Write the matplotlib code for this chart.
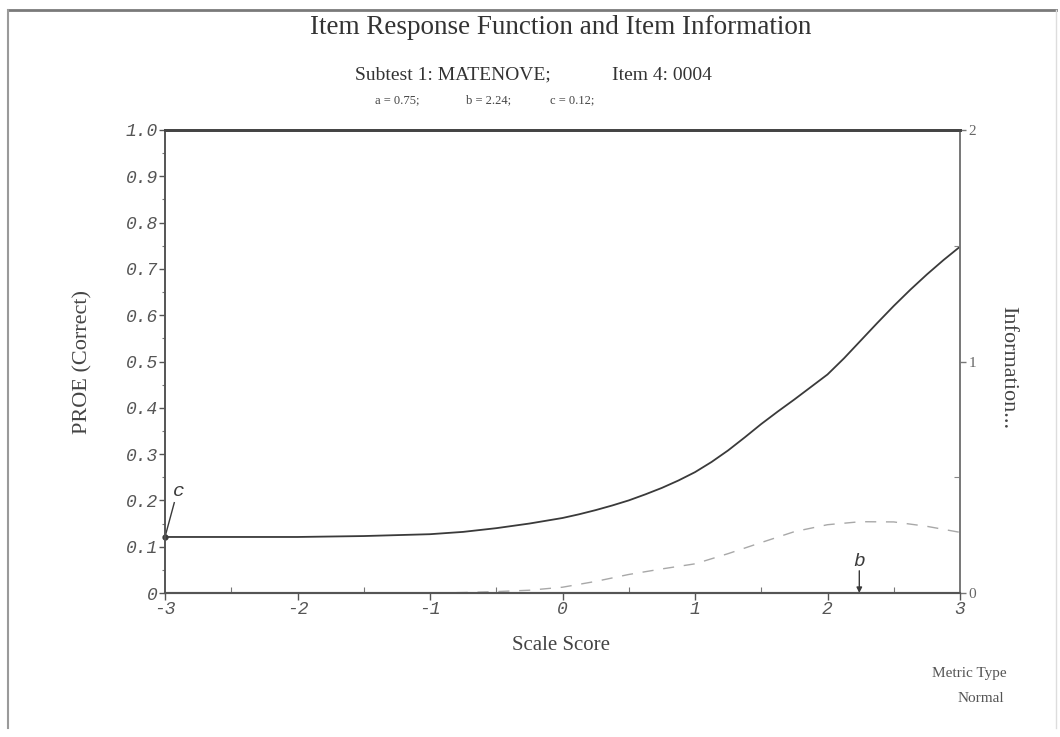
import matplotlib.pyplot as plt
from matplotlib.lines import Line2D
from matplotlib.ticker import MultipleLocator, FixedLocator

# item parameters (3PL)
a_param = 0.75
b_param = 2.24
c_param = 0.12

# scale score grid for the response function
theta = [-3.0, -2.75, -2.5, -2.25, -2.0, -1.75, -1.5, -1.25, -1.0, -0.75, -0.5, -0.25,
         0.0, 0.125, 0.25, 0.375, 0.5, 0.625, 0.75, 0.875, 1.0, 1.125, 1.25, 1.375,
         1.5, 1.625, 1.75, 1.875, 2.0, 2.125, 2.25, 2.375, 2.5, 2.625, 2.75, 2.875, 3.0]

# probability of a correct response
prob_correct = [0.121, 0.121, 0.121, 0.121, 0.121, 0.122, 0.123, 0.125, 0.127, 0.132, 0.140, 0.150,
                0.162, 0.170, 0.179, 0.189, 0.200, 0.213, 0.227, 0.243, 0.261, 0.283, 0.308, 0.336,
                0.365, 0.392, 0.418, 0.445, 0.472, 0.507, 0.545, 0.583, 0.620, 0.655, 0.688, 0.719, 0.748]

# scale score grid and item information
theta_info = [-3.0, -2.5, -2.0, -1.5, -1.0, -0.75, -0.5, -0.25, 0.0, 0.25, 0.5, 0.75,
              1.0, 1.25, 1.5, 1.75, 2.0, 2.25, 2.5, 2.75, 3.0]
information = [0.0, 0.0, 0.0, 0.0, 0.0, 0.002, 0.006, 0.012, 0.025, 0.050, 0.080, 0.104,
               0.126, 0.170, 0.218, 0.265, 0.295, 0.308, 0.307, 0.288, 0.262]

left_ticks = [0.0, 0.1, 0.2, 0.3, 0.4, 0.5, 0.6, 0.7, 0.8, 0.9, 1.0]
left_labels = ["0", "0.1", "0.2", "0.3", "0.4", "0.5", "0.6", "0.7", "0.8", "0.9", "1.0"]
x_ticks = [-3, -2, -1, 0, 1, 2, 3]
right_ticks = [0, 1, 2]

serif = "Liberation Serif"
mono = "Liberation Mono"
ink = "#3a3a3a"

fig = plt.figure(figsize=(10.6, 7.37), dpi=100)
fig.patch.set_facecolor("white")

# page frame
W, H = 1060, 737
frame = [((8, 1056), (10, 10), "#7a7a7a", 2.0),
         ((8, 8), (10, 728), "#9a9a9a", 1.5),
         ((1056, 1056), (10, 728), "#dddddd", 1.0)]
for xs, ys, col, lw in frame:
    fig.add_artist(Line2D([x / W for x in xs], [1 - y / H for y in ys],
                          transform=fig.transFigure, color=col, linewidth=lw))

ax = fig.add_axes([165 / W, 1 - 593 / H, 795 / W, 463 / H])
ax2 = ax.twinx()

ax.plot(theta, prob_correct, color=ink, linewidth=1.3, zorder=3)
ax2.plot(theta_info, information, color="#a8a8a8", linewidth=1.0,
         linestyle=(0, (8, 7)), zorder=2)

ax.set_xlim(-3, 3)
ax.set_ylim(0, 1)
ax2.set_ylim(0, 2)

# left axis
ax.yaxis.set_major_locator(FixedLocator(left_ticks))
ax.set_yticklabels(left_labels, fontfamily=mono, fontstyle="italic",
                   fontsize=13, color="#555555")
ax.yaxis.set_minor_locator(MultipleLocator(0.05))
ax.tick_params(axis="y", which="major", direction="out", length=4, width=1, color="#555555", pad=1)
ax.tick_params(axis="y", which="minor", direction="out", length=2, width=0.8, color="#777777")

# bottom axis
ax.xaxis.set_major_locator(FixedLocator(x_ticks))
ax.set_xticklabels([str(t) for t in x_ticks], fontfamily=mono, fontstyle="italic",
                   fontsize=13, color="#555555")
ax.xaxis.set_minor_locator(MultipleLocator(0.5))
ax.tick_params(axis="x", which="major", direction="out", length=5, width=1, color="#555555", pad=1)
ax.tick_params(axis="x", which="minor", direction="in", length=4, width=0.8, color="#777777")

# right axis
ax2.yaxis.set_major_locator(FixedLocator(right_ticks))
ax2.set_yticklabels([str(t) for t in right_ticks], fontfamily=serif,
                    fontsize=11, color="#666666")
ax2.yaxis.set_minor_locator(MultipleLocator(0.5))
ax2.tick_params(axis="y", which="major", direction="out", length=4, width=1, color="#777777", pad=2)
ax2.tick_params(axis="y", which="minor", direction="in", length=4, width=0.8, color="#888888")

for a in (ax, ax2):
    a.spines["left"].set_color("#555555")
    a.spines["bottom"].set_color("#555555")
    a.spines["right"].set_color("#777777")
    a.spines["top"].set_color("#444444")
    a.spines["top"].set_linewidth(2.0)
    a.spines["left"].set_linewidth(1.2)
    a.spines["bottom"].set_linewidth(1.5)
    a.spines["right"].set_linewidth(1.2)

# lower asymptote marker
ax.plot([-3], [prob_correct[0]], marker="o", markersize=3.5, color=ink, zorder=4, clip_on=False)
ax.plot([-3, -2.93], [prob_correct[0], 0.195], color=ink, linewidth=1.0)
ax.text(-2.94, 0.2, "c", fontfamily=mono, fontstyle="italic", fontsize=14,
        color=ink, ha="left", va="bottom")

# difficulty marker
ax.annotate("", xy=(b_param, 0.0), xytext=(b_param, 0.048),
            arrowprops=dict(arrowstyle="-|>", color=ink, lw=1.0,
                            mutation_scale=8, shrinkA=0, shrinkB=0))
ax.text(b_param, 0.05, "b", fontfamily=mono, fontstyle="italic", fontsize=14,
        color=ink, ha="center", va="bottom")

# titles and labels
fig.text(561 / W, 1 - 28 / H, "Item Response Function and Item Information",
         fontfamily=serif, fontsize=19.5, color="#333333", ha="center", va="center")
fig.text(355 / W, 1 - 75 / H, "Subtest 1: MATENOVE;", fontfamily=serif,
         fontsize=14, color="#333333", ha="left", va="center")
fig.text(612 / W, 1 - 75 / H, "Item 4: 0004", fontfamily=serif,
         fontsize=14, color="#333333", ha="left", va="center")
fig.text(375 / W, 1 - 100 / H, f"a = {a_param:.2f};", fontfamily=serif,
         fontsize=9, color="#444444", ha="left", va="center")
fig.text(466 / W, 1 - 100 / H, f"b = {b_param:.2f};", fontfamily=serif,
         fontsize=9, color="#444444", ha="left", va="center")
fig.text(550 / W, 1 - 100 / H, f"c = {c_param:.2f};", fontfamily=serif,
         fontsize=9, color="#444444", ha="left", va="center")

fig.text(83 / W, 1 - 362 / H, "PROE (Correct)", fontfamily=serif, fontsize=16,
         color="#444444", rotation=90, ha="center", va="center")
fig.text(1008 / W, 1 - 368 / H, "Information...", fontfamily=serif, fontsize=16,
         color="#444444", rotation=270, ha="center", va="center")
fig.text(561 / W, 1 - 645 / H, "Scale Score", fontfamily=serif, fontsize=15,
         color="#444444", ha="center", va="center")
fig.text(1007 / W, 1 - 673 / H, "Metric Type", fontfamily=serif, fontsize=11,
         color="#555555", ha="right", va="center")
fig.text(1004 / W, 1 - 699 / H, "Normal", fontfamily=serif, fontsize=11,
         color="#555555", ha="right", va="center")

fig.savefig("out.png", dpi=100)
